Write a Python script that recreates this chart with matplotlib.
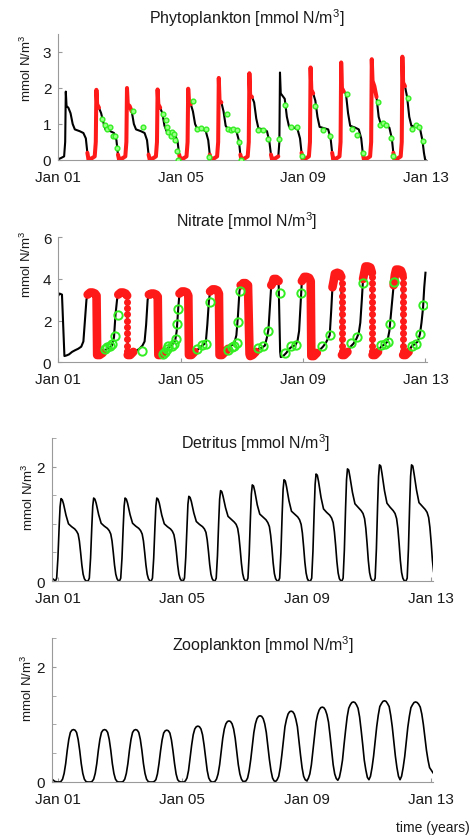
import numpy as np
import matplotlib
matplotlib.use("Agg")
import matplotlib.pyplot as plt
from matplotlib.ticker import FixedLocator

plt.rcParams["font.family"] = ["Liberation Sans", "DejaVu Sans"]
plt.rcParams["mathtext.fontset"] = "custom"
plt.rcParams["mathtext.rm"] = "Liberation Sans"
plt.rcParams["mathtext.it"] = "Liberation Sans"

W, H = 473, 837
tick_years = [0, 4, 8, 12]
tick_labels = ["Jan 01", "Jan 05", "Jan 09", "Jan 13"]

# ---- Phytoplankton: model, one row per year on a shared phase grid
phyto_phase = [0.00, 0.10, 0.19, 0.225, 0.245, 0.27, 0.33, 0.40, 0.47, 0.54, 0.70, 0.82, 0.90, 0.95, 0.99]
phyto_model = [
    [0.02, 0.06, 0.10, 0.50, 1.90, 1.50, 1.45, 1.30, 1.00, 0.85, 0.80, 0.75, 0.60, 0.20, 0.00],
    [0.02, 0.05, 0.10, 0.50, 1.95, 1.55, 1.45, 1.30, 1.05, 0.85, 0.80, 0.75, 0.55, 0.15, 0.00],
    [0.02, 0.05, 0.10, 0.50, 2.00, 1.55, 1.50, 1.35, 1.00, 0.85, 0.80, 0.75, 0.55, 0.15, 0.00],
    [0.02, 0.05, 0.10, 0.50, 1.96, 1.55, 1.45, 1.30, 0.95, 0.80, 0.75, 0.70, 0.50, 0.15, 0.00],
    [0.02, 0.05, 0.10, 0.50, 1.98, 1.62, 1.55, 1.35, 1.00, 0.87, 0.85, 0.80, 0.55, 0.15, 0.00],
    [0.02, 0.05, 0.10, 0.50, 2.28, 1.65, 1.60, 1.35, 0.95, 0.87, 0.85, 0.80, 0.55, 0.15, 0.00],
    [0.02, 0.05, 0.10, 0.50, 2.41, 1.80, 1.75, 1.60, 1.15, 0.88, 0.85, 0.80, 0.50, 0.15, 0.00],
    [0.02, 0.05, 0.10, 0.50, 2.43, 1.85, 1.78, 1.70, 1.20, 0.93, 0.90, 0.85, 0.60, 0.20, 0.00],
    [0.02, 0.05, 0.10, 0.50, 2.57, 1.95, 1.85, 1.65, 1.20, 0.92, 0.88, 0.85, 0.60, 0.20, 0.00],
    [0.02, 0.05, 0.10, 0.50, 2.71, 2.00, 1.90, 1.85, 1.30, 0.95, 0.90, 0.85, 0.60, 0.20, 0.00],
    [0.02, 0.05, 0.10, 0.50, 2.80, 2.20, 2.05, 1.75, 1.20, 1.00, 0.95, 0.90, 0.60, 0.20, 0.00],
    [0.02, 0.05, 0.10, 0.50, 2.87, 2.15, 2.05, 1.75, 1.20, 0.95, 0.92, 0.88, 0.55, 0.20, 0.00],
]
phyto_end = (12.0, 0.0)
# time windows where the red observations cover the model
phyto_red_windows = [(0.93, 1.36), (1.94, 2.40), (2.94, 3.38), (3.92, 4.36), (4.94, 5.39),
                     (5.94, 6.38), (6.94, 7.20), (7.92, 8.39), (8.94, 9.37), (9.94, 10.40),
                     (10.94, 11.39)]
phyto_obs_t = [1.42, 1.53, 1.60, 1.69, 1.78, 1.85, 1.93, 2.43, 2.76,
               3.43, 3.51, 3.54, 3.59, 3.67, 3.73, 3.79, 3.83, 3.87, 3.92,
               4.39, 4.52, 4.68, 4.83, 4.93, 5.50, 5.56, 5.63, 5.72, 5.83, 5.92, 5.96,
               6.54, 6.70, 6.84, 7.22, 7.41, 7.59, 7.79, 7.95, 8.39, 8.64, 8.88,
               9.42, 9.59, 9.77, 9.95, 10.44, 10.53, 10.62, 10.71, 10.86, 10.95,
               11.44, 11.55, 11.68, 11.80, 11.91]
phyto_obs_v = [1.14, 0.96, 0.86, 0.91, 0.68, 0.68, 0.33, 1.37, 0.93,
               1.28, 1.12, 0.91, 0.77, 0.68, 0.77, 0.72, 0.56, 0.26, 0.00,
               1.65, 0.86, 0.88, 0.86, 0.07, 1.28, 0.86, 0.82, 0.86, 0.82, 0.49, 0.00,
               0.84, 0.84, 0.58, 0.57, 1.53, 0.91, 0.91, 0.12, 1.49, 0.84, 0.66,
               1.84, 0.86, 0.70, 0.19, 1.61, 0.98, 1.02, 0.96, 0.60, 0.12,
               1.72, 0.86, 0.97, 0.93, 0.54]

# ---- Nitrate
nitrate_phase = [0.00, 0.04, 0.12, 0.20, 0.25, 0.27, 0.35, 0.45, 0.55, 0.65, 0.75, 0.82, 0.87, 0.92, 0.96]
nitrate_model = [
    [3.20, 3.30, 3.25, 0.30, 0.32, 0.33, 0.38, 0.50, 0.58, 0.65, 0.75, 1.00, 2.00, 3.00, 3.25],
    [3.30, 3.35, 3.35, 3.30, 3.20, 0.35, 0.35, 0.45, 0.60, 0.70, 0.80, 1.20, 2.30, 3.00, 3.25],
    [3.30, 3.35, 3.35, 3.30, 3.20, 0.35, 0.35, 0.50, 0.55, 0.65, 0.80, 1.00, 1.80, 3.00, 3.25],
    [3.25, 3.30, 3.30, 3.25, 3.15, 0.35, 0.35, 0.50, 0.65, 0.75, 0.90, 1.05, 1.50, 2.60, 3.30],
    [3.35, 3.40, 3.40, 3.35, 3.20, 0.35, 0.35, 0.50, 0.60, 0.75, 0.85, 0.95, 1.80, 2.90, 3.40],
    [3.45, 3.50, 3.50, 3.45, 3.30, 0.35, 0.35, 0.50, 0.65, 0.80, 0.90, 1.30, 2.20, 3.40, 3.70],
    [3.70, 3.80, 3.80, 3.70, 0.40, 0.30, 0.35, 0.50, 0.65, 0.70, 0.80, 1.20, 1.60, 2.80, 3.70],
    [3.80, 4.00, 4.00, 3.90, 0.50, 0.25, 0.30, 0.45, 0.65, 0.77, 0.82, 1.05, 1.50, 2.80, 3.90],
    [4.00, 4.10, 4.10, 4.05, 3.90, 0.30, 0.30, 0.45, 0.60, 0.75, 0.95, 1.15, 1.30, 2.50, 3.60],
    [3.90, 4.25, 4.30, 4.25, 4.10, 0.35, 0.35, 0.50, 0.75, 0.90, 1.15, 1.40, 1.90, 3.00, 4.00],
    [4.30, 4.60, 4.60, 4.55, 4.30, 0.35, 0.35, 0.50, 0.75, 0.85, 0.98, 1.50, 2.30, 3.10, 3.70],
    [4.20, 4.45, 4.45, 4.40, 4.20, 0.35, 0.35, 0.50, 0.78, 0.87, 1.00, 1.36, 1.90, 2.60, 3.60],
]
nitrate_end = (12.0, 4.30)
nitrate_red_windows = [(0.95, 1.47), (1.95, 2.46), (2.94, 3.49), (3.95, 4.46), (4.95, 5.56),
                       (5.95, 6.46), (6.94, 7.21), (7.95, 8.46), (8.95, 9.48), (9.95, 10.51),
                       (10.95, 11.49)]
nitrate_dotted_years = [2, 9, 10, 11]
nitrate_drop_dots = [4.1, 3.8, 3.5, 3.2, 2.9, 2.6, 2.3, 2.0, 1.7, 1.4, 1.1, 0.8, 0.55]
nitrate_obs_t = [1.53, 1.60, 1.69, 1.75, 1.85, 1.96, 2.72,
                 3.43, 3.49, 3.54, 3.60, 3.71, 3.78, 3.85, 3.89, 3.92,
                 4.52, 4.69, 4.83, 4.96, 5.56, 5.67, 5.74, 5.83, 5.88, 5.94,
                 6.54, 6.70, 6.86, 7.25, 7.41, 7.60, 7.78, 7.94, 8.62, 8.87,
                 9.58, 9.77, 9.96, 10.56, 10.67, 10.78, 10.83, 10.98,
                 11.55, 11.69, 11.82, 11.93]
nitrate_obs_v = [0.64, 0.72, 0.80, 0.88, 1.25, 2.27, 0.56,
                 0.40, 0.48, 0.64, 0.77, 0.80, 0.88, 1.12, 1.84, 2.56,
                 0.64, 0.83, 0.88, 2.91, 0.61, 0.72, 0.77, 0.93, 1.92, 3.44,
                 0.69, 0.80, 1.52, 3.33, 0.45, 0.77, 0.83, 3.31, 0.77, 1.31,
                 0.91, 1.23, 3.79, 0.83, 0.88, 0.99, 1.84, 3.87,
                 0.80, 0.88, 1.36, 2.77]

# ---- Detritus: cycle times relative to each year's peak
detritus_peak_t = [0.10, 1.15, 2.16, 3.18, 4.21, 5.23, 6.25, 7.27, 8.30, 9.31, 10.34, 11.37]
detritus_rel = [-0.18, -0.14, -0.10, -0.06, -0.03, 0.00, 0.04, 0.08, 0.16, 0.24,
                0.34, 0.44, 0.50, 0.55, 0.59, 0.63, 0.67, 0.71, 0.75, 0.80]
detritus_model = [
    [0.00, 0.05, 0.40, 0.95, 1.30, 1.44, 1.42, 1.35, 1.15, 1.00, 0.95, 0.91, 0.87, 0.82, 0.70, 0.50, 0.28, 0.12, 0.04, 0.00],
    [0.00, 0.05, 0.40, 0.95, 1.31, 1.45, 1.43, 1.36, 1.16, 1.01, 0.96, 0.92, 0.88, 0.82, 0.70, 0.50, 0.28, 0.12, 0.04, 0.00],
    [0.00, 0.05, 0.40, 0.95, 1.31, 1.45, 1.43, 1.36, 1.16, 1.01, 0.96, 0.92, 0.88, 0.82, 0.70, 0.50, 0.28, 0.12, 0.04, 0.00],
    [0.00, 0.05, 0.40, 0.95, 1.31, 1.45, 1.43, 1.36, 1.15, 1.00, 0.95, 0.91, 0.87, 0.81, 0.69, 0.50, 0.28, 0.12, 0.04, 0.00],
    [0.00, 0.05, 0.41, 0.97, 1.34, 1.48, 1.46, 1.39, 1.19, 1.04, 0.99, 0.95, 0.91, 0.85, 0.72, 0.52, 0.29, 0.12, 0.04, 0.00],
    [0.00, 0.05, 0.44, 1.04, 1.43, 1.58, 1.56, 1.48, 1.28, 1.13, 1.08, 1.03, 0.99, 0.92, 0.78, 0.56, 0.31, 0.13, 0.04, 0.00],
    [0.00, 0.05, 0.47, 1.11, 1.52, 1.68, 1.66, 1.57, 1.33, 1.17, 1.12, 1.07, 1.02, 0.95, 0.80, 0.58, 0.32, 0.13, 0.04, 0.00],
    [0.00, 0.05, 0.49, 1.17, 1.60, 1.77, 1.75, 1.65, 1.40, 1.22, 1.17, 1.12, 1.07, 0.99, 0.84, 0.60, 0.33, 0.14, 0.04, 0.00],
    [0.00, 0.05, 0.52, 1.23, 1.69, 1.87, 1.85, 1.74, 1.46, 1.26, 1.20, 1.15, 1.10, 1.02, 0.86, 0.62, 0.34, 0.14, 0.04, 0.00],
    [0.00, 0.05, 0.54, 1.29, 1.77, 1.96, 1.94, 1.82, 1.55, 1.35, 1.29, 1.23, 1.18, 1.09, 0.92, 0.66, 0.36, 0.15, 0.05, 0.00],
    [0.00, 0.05, 0.56, 1.34, 1.83, 2.03, 2.01, 1.88, 1.58, 1.36, 1.29, 1.23, 1.18, 1.09, 0.92, 0.66, 0.36, 0.15, 0.05, 0.00],
    [0.00, 0.05, 0.56, 1.34, 1.83, 2.03, 2.01, 1.88, 1.59, 1.37, 1.31, 1.25, 1.20, 1.11, 0.94, 0.68, 0.37, 0.16, 0.07, 0.00],
]
detritus_start = [(-0.19, 0.05)]

# ---- Zooplankton: one row per year on a 0.05-year grid
zoo_phase = [0.00, 0.05, 0.10, 0.15, 0.20, 0.25, 0.30, 0.35, 0.40, 0.45,
             0.50, 0.55, 0.60, 0.65, 0.70, 0.75, 0.80, 0.85, 0.90, 0.95]
zoo_model = [
    [0.00, 0.00, 0.01, 0.05, 0.15, 0.32, 0.55, 0.74, 0.86, 0.90, 0.91, 0.90, 0.86, 0.74, 0.55, 0.32, 0.15, 0.05, 0.01, 0.00],
    [0.00, 0.00, 0.01, 0.05, 0.15, 0.32, 0.55, 0.74, 0.86, 0.90, 0.91, 0.90, 0.86, 0.74, 0.55, 0.32, 0.15, 0.05, 0.01, 0.00],
    [0.00, 0.00, 0.01, 0.05, 0.15, 0.32, 0.55, 0.74, 0.86, 0.90, 0.91, 0.90, 0.86, 0.74, 0.55, 0.32, 0.15, 0.05, 0.01, 0.00],
    [0.00, 0.00, 0.01, 0.04, 0.14, 0.32, 0.54, 0.73, 0.85, 0.89, 0.90, 0.89, 0.85, 0.73, 0.54, 0.32, 0.14, 0.04, 0.01, 0.00],
    [0.00, 0.00, 0.02, 0.07, 0.20, 0.42, 0.64, 0.82, 0.92, 0.96, 0.97, 0.96, 0.92, 0.82, 0.64, 0.42, 0.20, 0.07, 0.02, 0.00],
    [0.00, 0.01, 0.05, 0.14, 0.30, 0.53, 0.76, 0.92, 1.01, 1.05, 1.06, 1.05, 1.01, 0.92, 0.76, 0.53, 0.30, 0.14, 0.05, 0.01],
    [0.01, 0.02, 0.07, 0.20, 0.39, 0.62, 0.86, 1.01, 1.10, 1.14, 1.15, 1.14, 1.10, 1.01, 0.86, 0.62, 0.39, 0.20, 0.07, 0.02],
    [0.01, 0.04, 0.10, 0.25, 0.47, 0.71, 0.96, 1.09, 1.18, 1.22, 1.23, 1.22, 1.18, 1.09, 0.96, 0.71, 0.47, 0.25, 0.10, 0.04],
    [0.02, 0.06, 0.14, 0.30, 0.55, 0.81, 1.04, 1.17, 1.25, 1.29, 1.30, 1.29, 1.25, 1.17, 1.04, 0.81, 0.55, 0.30, 0.14, 0.06],
    [0.03, 0.08, 0.21, 0.38, 0.65, 0.90, 1.13, 1.28, 1.34, 1.38, 1.39, 1.38, 1.34, 1.28, 1.13, 0.90, 0.65, 0.38, 0.21, 0.08],
    [0.04, 0.10, 0.25, 0.45, 0.71, 0.96, 1.16, 1.31, 1.36, 1.40, 1.41, 1.40, 1.36, 1.31, 1.16, 0.96, 0.71, 0.45, 0.25, 0.10],
    [0.04, 0.10, 0.25, 0.44, 0.70, 0.95, 1.14, 1.29, 1.34, 1.38, 1.39, 1.38, 1.35, 1.30, 1.18, 1.00, 0.78, 0.55, 0.38, 0.25],
]
zoo_start = [(-0.19, 0.05), (-0.10, 0.01)]
zoo_end = (12.06, 0.16)


def build(phase, rows, bases=None):
    t, v = [], []
    for k, row in enumerate(rows):
        base = k if bases is None else bases[k]
        t.extend(base + p for p in phase)
        v.extend(row)
    return np.array(t), np.array(v)


def in_window(t, v, lo, hi):
    m = (t >= lo) & (t <= hi)
    return t[m], v[m]


fig = plt.figure(figsize=(W / 100, H / 100), dpi=100)


def add_axes(x0, x1, y_top, y_bottom):
    return fig.add_axes([x0 / W, 1 - y_bottom / H, (x1 - x0) / W, (y_bottom - y_top) / H])


def style(ax, xlim, ylim, yticks, minor=None):
    ax.set_xlim(*xlim)
    ax.set_ylim(*ylim)
    ax.set_yticks(yticks)
    ax.set_yticklabels([f"{y:g}" for y in yticks])
    if minor:
        ax.yaxis.set_minor_locator(FixedLocator(minor))
    ax.set_xticks(tick_years)
    ax.set_xticklabels(tick_labels)
    for s in ("top", "right"):
        ax.spines[s].set_visible(False)
    for s in ("left", "bottom"):
        ax.spines[s].set_color("#9a9a9a")
        ax.spines[s].set_linewidth(0.8)
    ax.tick_params(which="both", direction="in", length=3, color="#9a9a9a",
                   labelsize=11, labelcolor="#1a1a1a")
    ax.tick_params(axis="x", pad=7)
    ax.tick_params(axis="y", pad=5)


def label(x, y, s, **kw):
    fig.text(x / W, 1 - y / H, s, ha="center", va="center", color="#1a1a1a", **kw)


red = "#ff1a1a"
green = "#33ee22"

# Phytoplankton
ax1 = add_axes(58.3, 427, 35, 161)
pt, pv = build(phyto_phase, phyto_model)
pt, pv = np.append(pt, phyto_end[0]), np.append(pv, phyto_end[1])
ax1.plot(pt, pv, color="black", lw=1.5, zorder=2)
for lo, hi in phyto_red_windows:
    rt, rv = in_window(pt, pv, lo, hi)
    ax1.plot(rt, rv, color=red, lw=2.9, solid_capstyle="round", solid_joinstyle="round", zorder=3)
ax1.plot(phyto_obs_t, phyto_obs_v, "o", ms=3.4, mfc="#99ff88", mec=green, mew=1.0, zorder=4)
style(ax1, (0, 12.05), (0, 3.5), [0, 1, 2, 3])

# Nitrate
ax2 = add_axes(58.3, 427, 238.3, 363.3)
nt, nv = build(nitrate_phase, nitrate_model)
nt, nv = np.append(nt, nitrate_end[0]), np.append(nv, nitrate_end[1])
ax2.plot(nt, nv, color="black", lw=1.5, zorder=2)
for k, (lo, hi) in enumerate(nitrate_red_windows, start=1):
    if k in nitrate_dotted_years:
        pieces = [(lo, k + 0.255), (k + 0.265, hi)]
        top = max(nitrate_model[k][:5])
        dots = [d for d in nitrate_drop_dots if d < top - 0.25]
        ax2.plot([k + 0.26] * len(dots), dots, "o", ms=4, color=red, mec=red, zorder=3)
    else:
        pieces = [(lo, hi)]
    for a, b in pieces:
        rt, rv = in_window(nt, nv, a, b)
        ax2.plot(rt, rv, color=red, lw=6.2, solid_capstyle="round", solid_joinstyle="round", zorder=3)
ax2.plot(nitrate_obs_t, nitrate_obs_v, "o", ms=6, mfc="none", mec=green, mew=1.4, zorder=4)
style(ax2, (0, 12.05), (0, 6), [0, 2, 4, 6])

# Detritus
ax3 = add_axes(52, 433, 439, 582)
dt, dv = build(detritus_rel, detritus_model, detritus_peak_t)
dt = np.concatenate([[p[0] for p in detritus_start], dt])
dv = np.concatenate([[p[1] for p in detritus_start], dv])
ax3.plot(dt, dv, color="black", lw=1.2)
style(ax3, (-0.19, 12.06), (0, 2.5), [0, 2], minor=[0.5, 1, 1.5, 2.5])

# Zooplankton
ax4 = add_axes(52, 433, 639, 783)
zt, zv = build(zoo_phase, zoo_model)
zt = np.concatenate([[p[0] for p in zoo_start], zt, [zoo_end[0]]])
zv = np.concatenate([[p[1] for p in zoo_start], zv, [zoo_end[1]]])
ax4.plot(zt, zv, color="black", lw=1.2)
style(ax4, (-0.19, 12.06), (0, 2.5), [0, 2], minor=[0.5, 1, 1.5, 2.5])

# titles and labels
label(247, 18, "Phytoplankton [mmol N/m$^3$]", fontsize=11.5)
label(247, 221, "Nitrate [mmol N/m$^3$]", fontsize=11.5)
label(256, 443, "Detritus [mmol N/m$^3$]", fontsize=11.5)
label(263, 645, "Zooplankton [mmol N/m$^3$]", fontsize=11.5)
for x, y in [(26, 68), (26, 264), (28, 497), (27, 688)]:
    label(x, y, "mmol N/m$^3$", fontsize=9.5, rotation=90)
label(433, 828, "time (years)", fontsize=10)

fig.savefig("out.png", dpi=100)
